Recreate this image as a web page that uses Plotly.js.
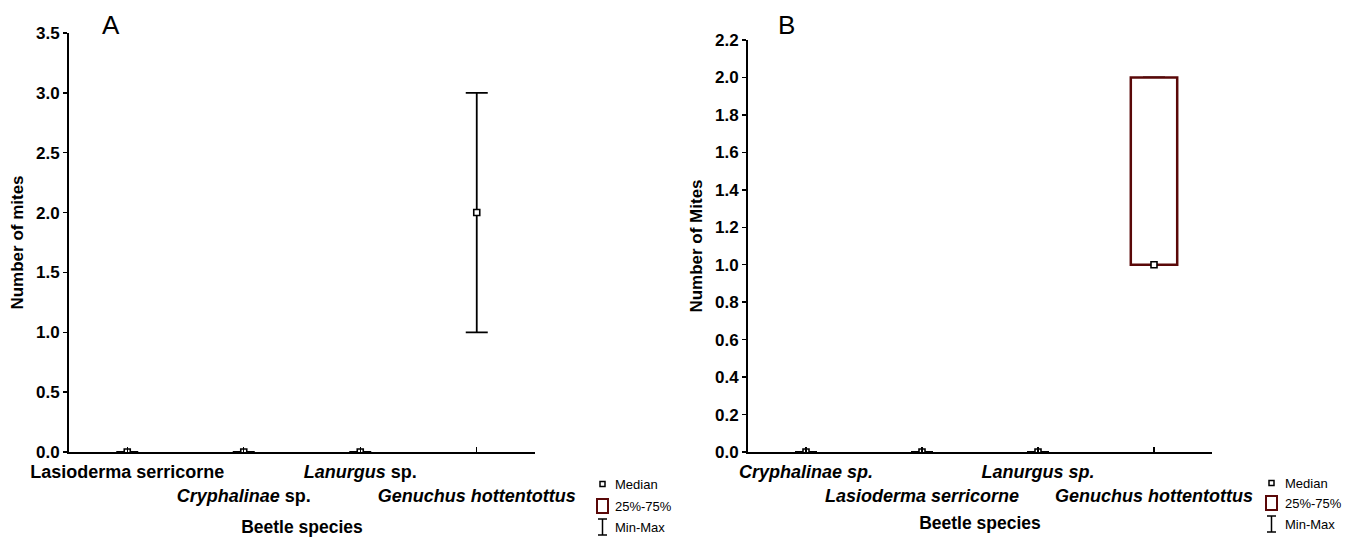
<!DOCTYPE html>
<html>
<head>
<meta charset="utf-8">
<script src="https://cdn.plot.ly/plotly-3.0.1.min.js"></script>
<style>html,body{margin:0;padding:0;background:#fff;}#chart{width:1365px;height:537px;}</style>
</head>
<body>
<div id="chart"></div>
<script>
// ---- Panel A data ----
const categoriesA = ['Lasioderma serricorne', 'Cryphalinae sp.', 'Lanurgus sp.', 'Genuchus hottentottus'];
const tickTextA = ['<b>Lasioderma serricorne</b>', '<br><b><i>Cryphalinae</i> sp.</b>', '<b><i>Lanurgus</i> sp.</b>', '<br><b><i>Genuchus hottentottus</i></b>'];
const medianA = [0, 0, 0, 2];
const q1A = [0, 0, 0, 2];
const q3A = [0, 0, 0, 2];
const minA = [0, 0, 0, 1];
const maxA = [0, 0, 0, 3];

// ---- Panel B data ----
const categoriesB = ['Cryphalinae sp.', 'Lasioderma serricorne', 'Lanurgus sp.', 'Genuchus hottentottus'];
const tickTextB = ['<b><i>Cryphalinae sp.</i></b>', '<br><b><i>Lasioderma serricorne</i></b>', '<b><i>Lanurgus sp.</i></b>', '<br><b><i>Genuchus hottentottus</i></b>'];
const medianB = [0, 0, 0, 1];
const q1B = [0, 0, 0, 1];
const q3B = [0, 0, 0, 2];
const minB = [0, 0, 0, 1];
const maxB = [0, 0, 0, 2];

const FONT = 'Liberation Sans, Arial, sans-serif';
const BOX = '#5a0808';
const W = 1365, H = 537;
const px = v => v / W;
const py = v => 1 - v / H;

function panelTraces(cats, med, q1, q3, mn, mx, xa, ya, xo, yo) {
  return [
    { // min-max whiskers
      type: 'scatter', mode: 'markers', x: cats, y: med, xaxis: xa, yaxis: ya,
      marker: {size: 1, color: 'rgba(0,0,0,0)'}, showlegend: false, hoverinfo: 'skip',
      error_y: {type: 'data', symmetric: false,
        array: mx.map((v, i) => v - med[i]), arrayminus: med.map((v, i) => v - mn[i]),
        color: '#000', thickness: 1.8, width: 11, visible: true}
    },
    { // 25%-75% box (empty boxes are not drawn)
      type: 'bar', x: cats, base: q1, y: q3.map((v, i) => (v - q1[i]) || null), xaxis: xo, yaxis: yo,
      width: 0.4, marker: {color: '#ffffff', line: {color: BOX, width: 2.5}},
      showlegend: false, hoverinfo: 'skip'
    },
    { // median
      type: 'scatter', mode: 'markers', x: cats, y: med, xaxis: xo, yaxis: yo,
      marker: {symbol: 'square', size: 6, color: '#ffffff', line: {color: '#000', width: 1.6}},
      showlegend: false, hoverinfo: 'skip'
    }
  ];
}

const data = [
  ...panelTraces(categoriesA, medianA, q1A, q3A, minA, maxA, 'x', 'y', 'x3', 'y3'),
  ...panelTraces(categoriesB, medianB, q1B, q3B, minB, maxB, 'x2', 'y2', 'x4', 'y4')
];

const domAx = [px(69), px(535)];
const domBx = [px(748), px(1212)];
const domAy = [py(452), py(33)];
const domBy = [py(452), py(40)];

function xAxis(dom, cats, ticks, anchor, standoff) {
  return {
    domain: dom, anchor: anchor, type: 'category', range: [-0.5, 3.5],
    categoryorder: 'array', categoryarray: cats,
    tickmode: 'array', tickvals: cats, ticktext: ticks, tickangle: 0, ticklabelstandoff: 3,
    showline: true, linecolor: '#000', linewidth: 1.6,
    ticks: 'inside', ticklen: 5, tickwidth: 1.2, tickcolor: '#000',
    tickfont: {family: FONT, size: 18, color: '#000', weight: 'bold'},
    showgrid: false, zeroline: false, fixedrange: true,
    title: {text: '<b>Beetle species</b>', font: {family: FONT, size: 17.5, color: '#000'}, standoff: standoff}
  };
}
function yAxis(dom, max, dtick, title, anchor) {
  return {
    domain: dom, anchor: anchor, range: [0, max], dtick: dtick, tick0: 0, tickformat: '.1f',
    showline: true, linecolor: '#000', linewidth: 2,
    ticks: 'outside', ticklen: 4, tickwidth: 1.5, tickcolor: '#000',
    tickfont: {family: FONT, size: 17, color: '#000', weight: 'bold'},
    showgrid: false, zeroline: false, fixedrange: true,
    title: {text: '<b>' + title + '</b>', font: {family: FONT, size: 17, color: '#000'}, standoff: 8}
  };
}
function overlayX(base, cats, anchor) {
  return {overlaying: base, anchor: anchor, type: 'category', range: [-0.5, 3.5],
    categoryorder: 'array', categoryarray: cats, visible: false, fixedrange: true};
}
function overlayY(base, max, anchor) {
  return {overlaying: base, anchor: anchor, range: [0, max], visible: false, fixedrange: true};
}

// legend (drawn by hand, Statistica style)
function legendShapes(x0, yMed, yBox, yMM) {
  return [
    {type: 'rect', xref: 'paper', yref: 'paper', x0: px(x0 + 3), x1: px(x0 + 8), y0: py(yMed + 2.5), y1: py(yMed - 2.5),
      line: {color: '#000', width: 1.5}, fillcolor: '#fff'},
    {type: 'rect', xref: 'paper', yref: 'paper', x0: px(x0), x1: px(x0 + 11), y0: py(yBox + 7), y1: py(yBox - 7),
      line: {color: BOX, width: 2}, fillcolor: '#fff'},
    {type: 'line', xref: 'paper', yref: 'paper', x0: px(x0 + 5.5), x1: px(x0 + 5.5), y0: py(yMM + 8), y1: py(yMM - 8),
      line: {color: '#000', width: 1.5}},
    {type: 'line', xref: 'paper', yref: 'paper', x0: px(x0 + 1), x1: px(x0 + 10), y0: py(yMM - 8), y1: py(yMM - 8),
      line: {color: '#000', width: 1.5}},
    {type: 'line', xref: 'paper', yref: 'paper', x0: px(x0 + 1), x1: px(x0 + 10), y0: py(yMM + 8), y1: py(yMM + 8),
      line: {color: '#000', width: 1.5}}
  ];
}
function legendText(x, yMed, yBox, yMM) {
  const base = {xref: 'paper', yref: 'paper', xanchor: 'left', yanchor: 'middle', showarrow: false,
    font: {family: FONT, size: 13, color: '#000'}};
  return [
    Object.assign({}, base, {x: px(x), y: py(yMed), text: 'Median'}),
    Object.assign({}, base, {x: px(x), y: py(yBox), text: '25%-75%'}),
    Object.assign({}, base, {x: px(x), y: py(yMM), text: 'Min-Max'})
  ];
}

const layout = {
  width: W, height: H,
  margin: {l: 0, r: 0, t: 0, b: 0},
  paper_bgcolor: '#fff', plot_bgcolor: 'rgba(0,0,0,0)',
  showlegend: false, barmode: 'overlay',
  font: {family: FONT, color: '#000'},
  xaxis: xAxis(domAx, categoriesA, tickTextA, 'y', 16),
  yaxis: yAxis(domAy, 3.5, 0.5, 'Number of mites', 'x'),
  xaxis2: xAxis(domBx, categoriesB, tickTextB, 'y2', 12),
  yaxis2: yAxis(domBy, 2.2, 0.2, 'Number of Mites', 'x2'),
  xaxis3: overlayX('x', categoriesA, 'y3'),
  yaxis3: overlayY('y', 3.5, 'x3'),
  xaxis4: overlayX('x2', categoriesB, 'y4'),
  yaxis4: overlayY('y2', 2.2, 'x4'),
  shapes: [...legendShapes(597, 484, 506, 527), ...legendShapes(1266, 483, 503, 524)],
  annotations: [
    {xref: 'paper', yref: 'paper', x: px(111), y: py(25), text: 'A', showarrow: false,
      xanchor: 'center', yanchor: 'middle', font: {family: FONT, size: 26, color: '#000'}},
    {xref: 'paper', yref: 'paper', x: px(787), y: py(25), text: 'B', showarrow: false,
      xanchor: 'center', yanchor: 'middle', font: {family: FONT, size: 26, color: '#000'}},
    ...legendText(613, 484, 506, 527),
    ...legendText(1283, 483, 503, 524)
  ]
};

Plotly.newPlot('chart', data, layout, {displayModeBar: false, staticPlot: true});
</script>
</body>
</html>
